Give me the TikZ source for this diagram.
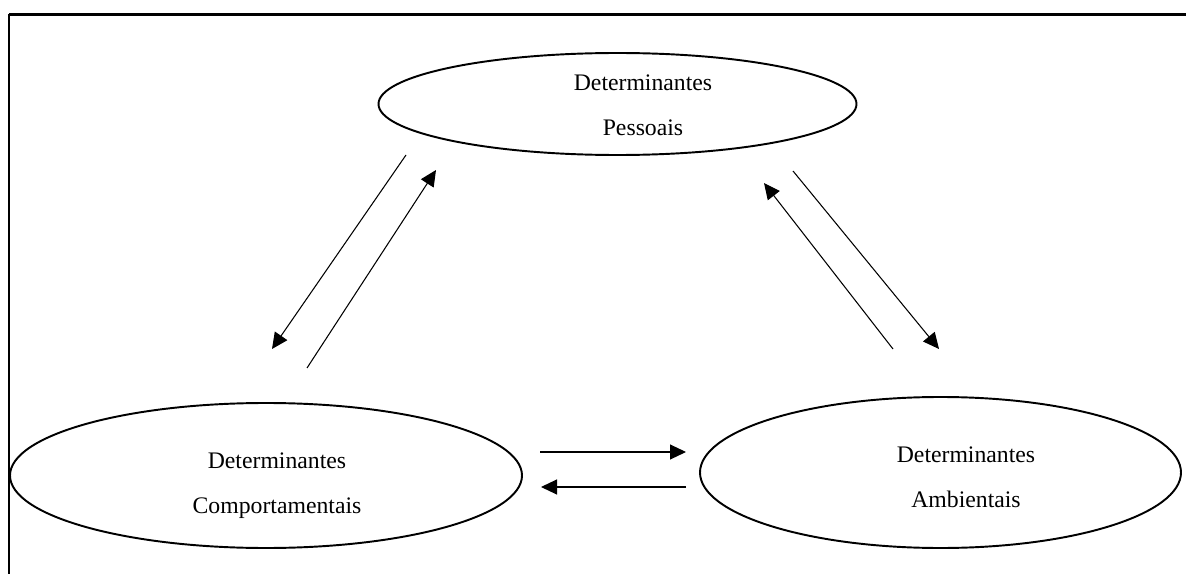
\documentclass[tikz,border=0pt]{standalone}
\usepackage{fontspec}
\setmainfont{Liberation Serif}
\usetikzlibrary{shapes.geometric,arrows.meta}
\tikzset{
  frameline/.style={draw=black, line cap=butt},
  blob/.style={ellipse, draw=black, line width=1.1pt, inner sep=0pt, outer sep=0pt},
  bloblabel/.style={align=center, font=\fontsize{13.5}{25.6}\selectfont},
  link/.style={draw=black, line width=0.6pt, -{Triangle[length=0.32cm,width=0.30cm]}},
}

\begin{document}
\begin{tikzpicture}
\useasboundingbox (0,0) rectangle (23.720,11.480);
\draw[frameline, line width=1.7pt] (0.180,11.190) -- (23.720,11.190);
\draw[frameline, line width=1.1pt] (0.180,11.190) -- (0.180,0.000);
\node[blob, minimum width=9.560cm, minimum height=2.040cm] (pes) at (12.350,9.400) {};
\node[bloblabel] (pestxt) at (12.860,9.370) {Determinantes\\Pessoais};
\node[blob, minimum width=10.240cm, minimum height=2.900cm] (com) at (5.320,1.970) {};
\node[bloblabel] (comtxt) at (5.540,1.770) {Determinantes\\Comportamentais};
\node[blob, minimum width=9.620cm, minimum height=3.020cm] (amb) at (18.810,2.030) {};
\node[bloblabel] (ambtxt) at (19.320,1.930) {Determinantes\\Ambientais};
\coordinate (a1) at (8.120,8.380);
\coordinate (a2) at (5.440,4.500);
\coordinate (b1) at (6.140,4.120);
\coordinate (b2) at (8.720,8.080);
\coordinate (c1) at (15.860,8.060);
\coordinate (c2) at (18.780,4.500);
\coordinate (d1) at (17.860,4.500);
\coordinate (d2) at (15.280,7.820);
\coordinate (e1) at (10.800,2.440);
\coordinate (e2) at (13.720,2.440);
\coordinate (f1) at (13.720,1.740);
\coordinate (f2) at (10.820,1.740);
\draw[link] (a1) -- (a2);
\draw[link] (b1) -- (b2);
\draw[link] (c1) -- (c2);
\draw[link] (d1) -- (d2);
\draw[link] (e1) -- (e2);
\draw[link] (f1) -- (f2);
\end{tikzpicture}
\end{document}
